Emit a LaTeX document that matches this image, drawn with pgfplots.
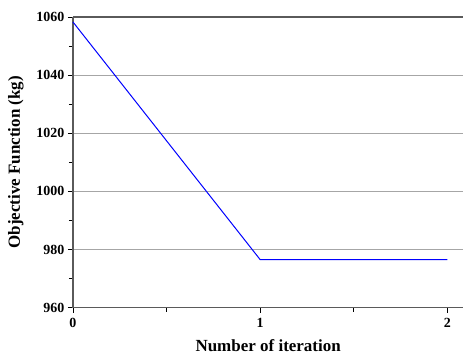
\documentclass[border=0pt]{standalone}
\usepackage{pgfplots}
\pgfplotsset{compat=1.18}
\usepackage{fontspec}
\setmainfont{Liberation Serif}
\definecolor{axgray}{RGB}{90,90,90}
\begin{document}
\begin{tikzpicture}
\begin{axis}[
  scale only axis,
  width=391pt, height=291pt,
  xmin=0, xmax=2.085,
  ymin=960, ymax=1060,
  axis x line*=box,
  axis y line*=left,
  xtick pos=lower,
  axis line style={axgray, line width=1.2pt},
  xtick={0,1,2},
  minor xtick={0.5,1.5},
  ytick={960,980,...,1060},
  minor ytick={970,990,...,1050},
  tick style={black, line width=0.8pt},
  major tick length=5pt,
  minor tick length=4pt,
  tick align=outside,
  ymajorgrids,
  major grid style={gray!70, line width=0.8pt},
  /pgf/number format/assume math mode=true,
  /pgf/number format/1000 sep={},
  ticklabel style={font=\fontsize{14}{16}\selectfont\bfseries},
  xticklabel style={yshift=-2pt},
  label style={font=\fontsize{17}{19}\selectfont\bfseries},
  xlabel={Number of iteration},
  ylabel={Objective Function (kg)},
  xlabel style={yshift=-5pt},
  ylabel style={yshift=6pt},
  clip=false,
]
\addplot[blue, line width=1pt] coordinates {(0,1058.3) (1,976.5) (2,976.5)};
\coordinate (tl) at (rel axis cs:0,1);
\coordinate (bl) at (rel axis cs:0,0);
\end{axis}
\path (tl) ++(0,17pt) coordinate (t2);
\path (bl) ++(-73pt,-46pt) coordinate (b2);
\end{tikzpicture}
\end{document}
